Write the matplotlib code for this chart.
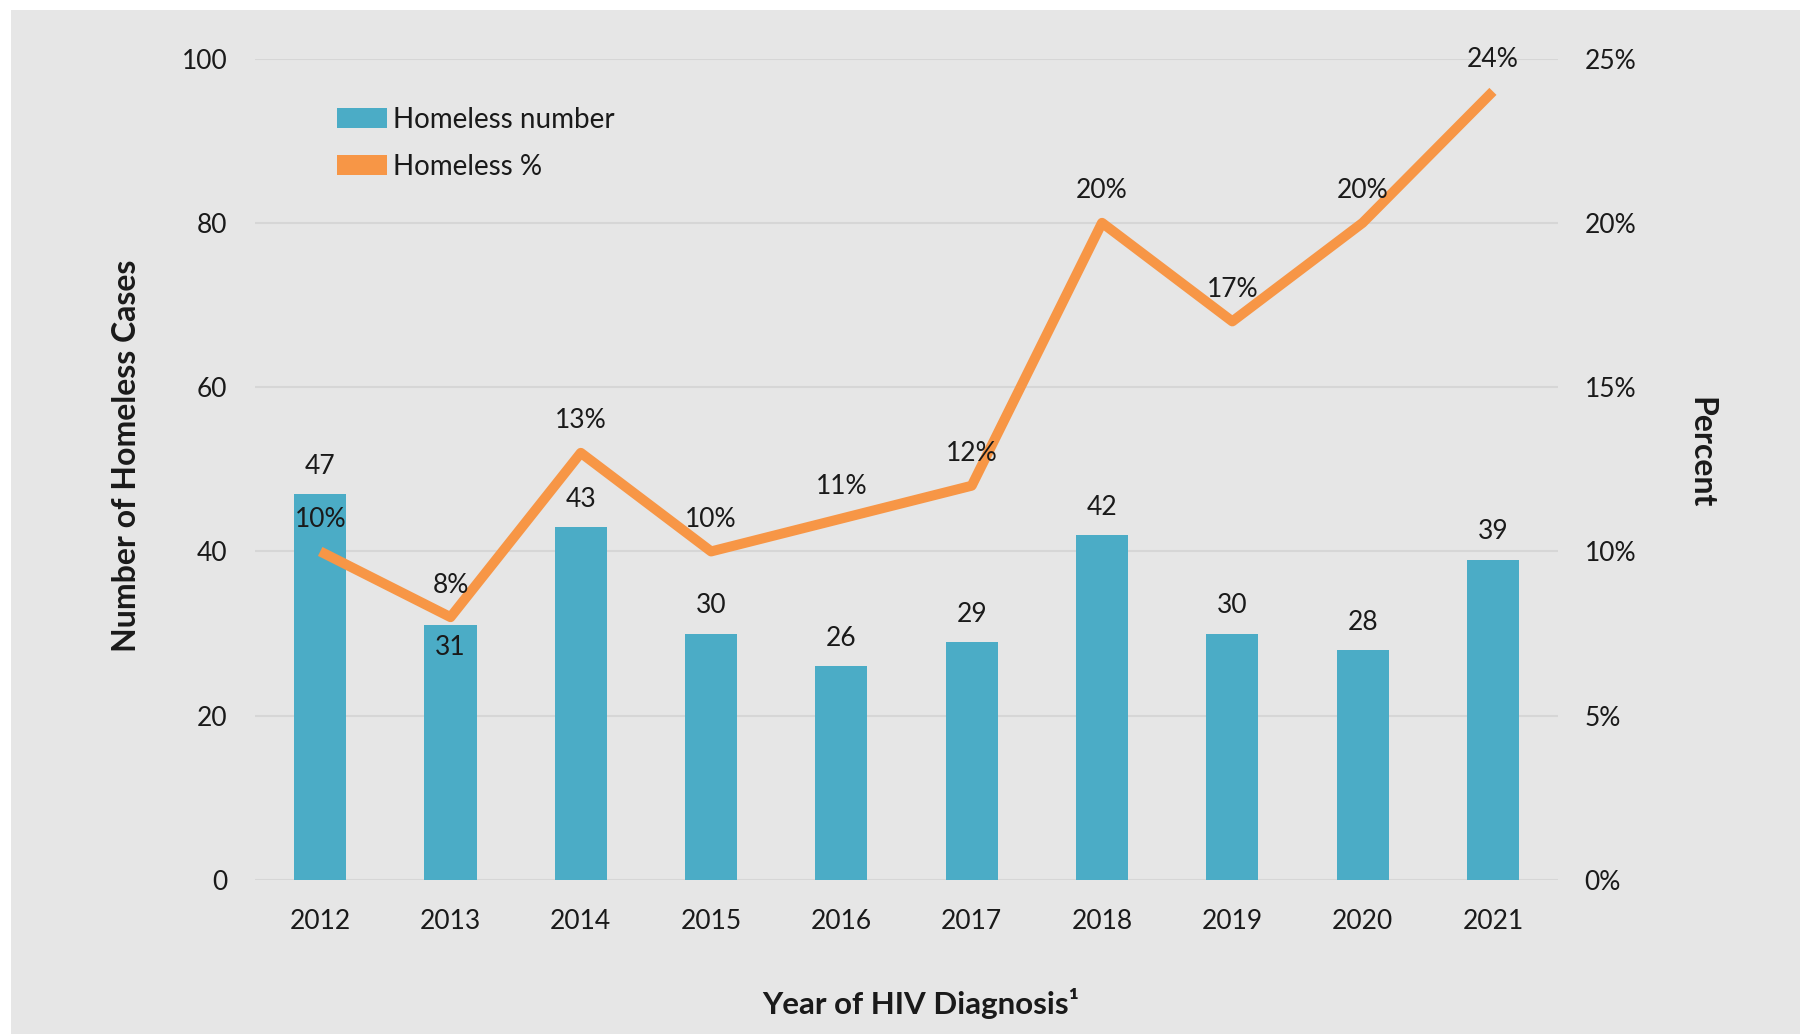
import matplotlib
matplotlib.use("Agg")
import matplotlib.pyplot as plt
from matplotlib.patches import Rectangle, Patch

plt.rcParams['font.family'] = ['Lato', 'DejaVu Sans']

# data
years = ['2012', '2013', '2014', '2015', '2016', '2017', '2018', '2019', '2020', '2021']
homeless_number = [47, 31, 43, 30, 26, 29, 42, 30, 28, 39]
homeless_pct = [10, 8, 13, 10, 11, 12, 20, 17, 20, 24]
left_ticks = [0, 20, 40, 60, 80, 100]
right_ticks = [0, 5, 10, 15, 20, 25]

bar_color = '#4BACC6'
line_color = '#F79646'
bg_color = '#E6E6E6'
grid_color = '#D6D6D6'
text_color = '#1A1A1A'

fig = plt.figure(figsize=(18, 10.34), dpi=100)
fig.patch.set_facecolor('white')
# gray panel behind the chart
fig.patches.append(Rectangle((11 / 1800, 0), 1 - 11 / 1800, 1 - 10 / 1034,
                             transform=fig.transFigure, facecolor=bg_color,
                             edgecolor='none', zorder=-10))

ax = fig.add_axes([0.1417, 0.1489, 0.7239, 0.7945])
ax.set_facecolor('none')
x = list(range(len(years)))

ax.bar(x, homeless_number, width=0.4, color=bar_color, zorder=2,
       label='Homeless number')
ax.set_xlim(-0.5, len(years) - 0.5)
ax.set_ylim(0, 100)
ax.set_yticks(left_ticks)
ax.set_xticks(x)
ax.set_xticklabels(years)
ax.yaxis.grid(True, color=grid_color, linewidth=1.5, zorder=0)
ax.set_axisbelow(True)
ax.tick_params(axis='y', length=0, pad=20, labelsize=19, labelcolor=text_color)
ax.tick_params(axis='x', length=0, pad=21, labelsize=19, labelcolor=text_color)
for s in ax.spines.values():
    s.set_visible(False)

ax2 = ax.twinx()
ax2.plot(x, homeless_pct, color=line_color, linewidth=7.2, zorder=3,
         solid_capstyle='butt', label='Homeless %')
ax2.set_ylim(0, 25)
ax2.set_yticks(right_ticks)
ax2.set_yticklabels([f'{t}%' for t in right_ticks])
ax2.tick_params(axis='y', length=0, pad=19, labelsize=19, labelcolor=text_color)
for s in ax2.spines.values():
    s.set_visible(False)

# bar value labels (2013 sits inside the bar)
for i, v in enumerate(homeless_number):
    off = -16 if years[i] == '2013' else 20
    ax.annotate(str(v), (i, v), xytext=(0, off), textcoords='offset points',
                ha='center', va='center', fontsize=19, color=text_color, zorder=5)

# percent labels above the line
for i, v in enumerate(homeless_pct):
    ax2.annotate(f'{v}%', (i, v), xytext=(0, 23), textcoords='offset points',
                 ha='center', va='center', fontsize=19, color=text_color, zorder=5)

ax.set_ylabel('Number of Homeless Cases', fontsize=23, fontweight='bold',
              color=text_color)
ax.yaxis.set_label_coords(-0.0875, 0.516)
ax2.set_ylabel('Percent', fontsize=23, fontweight='bold', color=text_color,
               rotation=-90, va='center')
ax2.yaxis.set_label_coords(1.1097, 0.52)
ax.set_xlabel('Year of HIV Diagnosis¹', fontsize=22.5, fontweight='bold',
              color=text_color)
ax.xaxis.set_label_coords(0.511, -0.131)

handles = [Patch(facecolor=bar_color, label='Homeless number'),
           Patch(facecolor=line_color, label='Homeless %')]
ax.legend(handles=handles, loc='upper left', bbox_to_anchor=(0.044, 0.972),
          frameon=False, fontsize=20, handlelength=1.8, handleheight=0.7,
          handletextpad=0.2, labelspacing=0.76, labelcolor=text_color)

fig.savefig('out.png', dpi=100)
